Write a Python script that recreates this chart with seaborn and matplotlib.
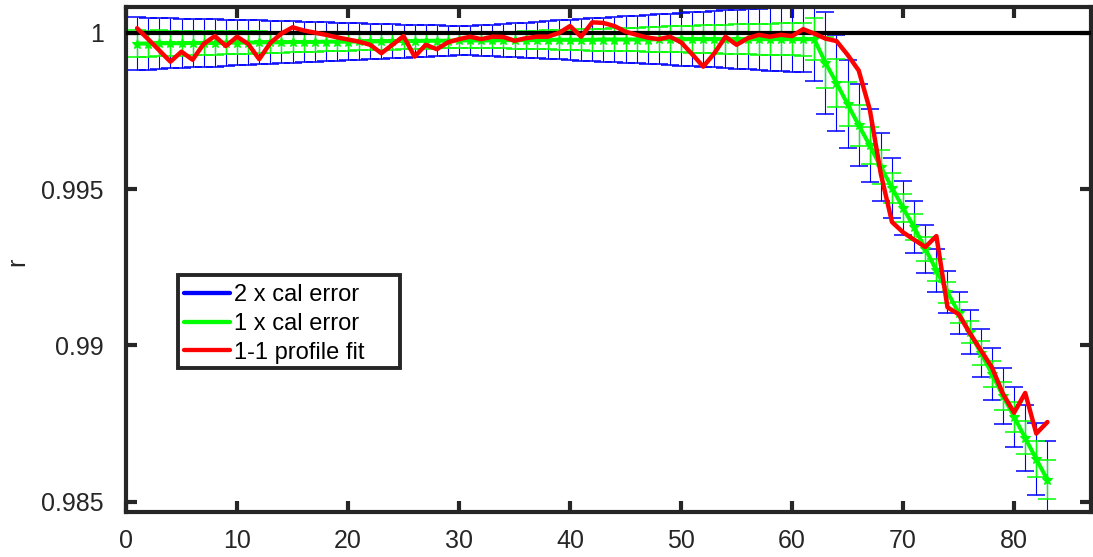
import numpy as np
import pandas as pd
import matplotlib
matplotlib.use("Agg")
import matplotlib.pyplot as plt
from matplotlib.lines import Line2D
from matplotlib.patches import Rectangle
import seaborn as sns

# ---------------- data ----------------
x_idx = list(range(1, 84))

fit_center = [
    0.99966, 0.99966, 0.99967, 0.99967, 0.99967, 0.99968, 0.99968, 0.99968, 0.99969, 0.99969,
    0.99969, 0.99970, 0.99970, 0.99970, 0.99971, 0.99971, 0.99971, 0.99972, 0.99972, 0.99972,
    0.99973, 0.99973, 0.99973, 0.99974, 0.99974, 0.99974, 0.99975, 0.99975, 0.99975, 0.99976,
    0.99976, 0.99976, 0.99976, 0.99977, 0.99977, 0.99977, 0.99977, 0.99978, 0.99978, 0.99978,
    0.99978, 0.99978, 0.99979, 0.99979, 0.99979, 0.99979, 0.99979, 0.99980, 0.99980, 0.99980,
    0.99980, 0.99980, 0.99980, 0.99980, 0.99980, 0.99980, 0.99980, 0.99980, 0.99980, 0.99980,
    0.99980, 0.99980,
    0.99905, 0.99840, 0.99772, 0.99705, 0.99640, 0.99570, 0.99505, 0.99440, 0.99378, 0.99310,
    0.99240, 0.99170, 0.99105, 0.99042, 0.98976, 0.98910, 0.98838, 0.98772, 0.98704, 0.98636,
    0.98570,
]

cal_error = [  # 1 x calibration error
    4.23e-4, 4.16e-4, 4.10e-4, 4.03e-4, 3.96e-4, 3.90e-4, 3.83e-4, 3.77e-4, 3.70e-4, 3.63e-4,
    3.57e-4, 3.50e-4, 3.44e-4, 3.37e-4, 3.30e-4, 3.24e-4, 3.17e-4, 3.11e-4, 3.04e-4, 2.97e-4,
    2.91e-4, 2.84e-4, 2.78e-4, 2.71e-4, 2.65e-4, 2.58e-4, 2.52e-4, 2.46e-4, 2.40e-4, 2.36e-4,
    2.38e-4, 2.44e-4, 2.53e-4, 2.62e-4, 2.72e-4, 2.82e-4, 2.92e-4, 3.02e-4, 3.12e-4, 3.22e-4,
    3.32e-4, 3.42e-4, 3.52e-4, 3.62e-4, 3.72e-4, 3.82e-4, 3.92e-4, 4.01e-4, 4.11e-4, 4.21e-4,
    4.31e-4, 4.41e-4, 4.51e-4, 4.61e-4, 4.71e-4, 4.81e-4, 4.91e-4, 5.01e-4, 5.11e-4, 5.21e-4,
    5.31e-4, 6.70e-4,
    8.15e-4, 7.67e-4, 7.03e-4, 6.55e-4, 5.91e-4, 5.43e-4, 4.79e-4, 4.39e-4, 4.15e-4, 3.83e-4,
    3.51e-4, 3.35e-4, 3.35e-4, 3.51e-4, 3.83e-4, 4.15e-4, 4.47e-4, 4.79e-4, 5.27e-4, 5.75e-4,
    6.23e-4,
]

profile_fit = [
    1.00015, 0.99980, 0.99944, 0.99908, 0.99940, 0.99914, 0.99965, 0.99990, 0.99958, 0.99988,
    0.99965, 0.99916, 0.99968, 0.99998, 1.00018, 1.00008, 1.00001, 0.99994, 0.99986, 0.99979,
    0.99972, 0.99962, 0.99935, 0.99962, 0.99990, 0.99924, 0.99962, 0.99948, 0.99970, 0.99980,
    0.99988, 0.99980, 0.99988, 0.99987, 0.99975, 0.99983, 0.99988, 0.99988, 1.00000, 1.00022,
    0.99988, 1.00034, 1.00032, 1.00022, 1.00004, 0.99994, 0.99985, 0.99980, 0.99988, 0.99970,
    0.99932, 0.99892, 0.99935, 0.99988, 0.99962, 0.99983, 0.99994, 0.99988, 0.99994, 0.99990,
    1.00012, 0.99998, 0.99982, 0.99974, 0.99930, 0.99880, 0.99755, 0.99548, 0.99395, 0.99362,
    0.99338, 0.99315, 0.99350, 0.99122, 0.99100, 0.99040, 0.98985, 0.98930, 0.98845, 0.98785,
    0.98848, 0.98718, 0.98755,
]

x_ticks = [0, 10, 20, 30, 40, 50, 60, 70, 80]
y_ticks = [0.985, 0.99, 0.995, 1.0]
y_tick_labels = ["0.985", "0.99", "0.995", "1"]
legend_labels = ["2 x cal error", "1 x cal error", "1-1 profile fit"]
series_colors = ["#0000ff", "#00ff00", "#ff0000"]
reference_level = 1.0

df = pd.DataFrame({"x": x_idx, "center": fit_center, "err": cal_error, "fit": profile_fit})

# ---------------- style ----------------
sns.set_theme(style="white")
plt.rcParams["font.family"] = ["Liberation Sans", "DejaVu Sans"]
axis_color = "#262626"

fig = plt.figure(figsize=(10.93, 5.57), dpi=100)
ax = fig.add_axes([126 / 1093, 45.3 / 557, 964.7 / 1093, 504.7 / 557])

# 2 x cal error bars
ax.errorbar(df["x"], df["center"], yerr=2 * df["err"], fmt="none",
            ecolor=series_colors[0], elinewidth=0.8, capsize=6.2, capthick=1.1, zorder=2)
# 1 x cal error bars
ax.errorbar(df["x"], df["center"], yerr=df["err"], fmt="none",
            ecolor=series_colors[1], elinewidth=1.0, capsize=6.2, capthick=1.1, zorder=3)
# green centre line with markers
sns.lineplot(data=df, x="x", y="center", ax=ax, color=series_colors[1], linewidth=2.9,
             marker="*", markersize=7, markeredgewidth=0.8, markeredgecolor=series_colors[1],
             sort=False, estimator=None, zorder=4)
# reference line at 1
ax.axhline(reference_level, color="black", linewidth=3.0, zorder=5)
# red profile fit
sns.lineplot(data=df, x="x", y="fit", ax=ax, color=series_colors[2], linewidth=3.2,
             sort=False, estimator=None, zorder=6)

ax.set_xlim(0, 86.9)
ax.set_ylim(0.98468, 1.00083)
ax.set_xticks(x_ticks)
ax.set_xticklabels([str(v) for v in x_ticks])
ax.set_yticks(y_ticks)
ax.set_yticklabels(y_tick_labels)
ax.set_xlabel("")
ax.set_ylabel("r", fontsize=18, color=axis_color)
ax.yaxis.set_label_coords(-0.1, 0.4948)

for s in ax.spines.values():
    s.set_visible(True)
    s.set_linewidth(3.0)
    s.set_color(axis_color)

ax.tick_params(axis="both", which="major", direction="in", length=7.7, width=3.0,
               color=axis_color, labelcolor=axis_color, labelsize=18,
               top=True, right=True, left=True, bottom=True)
ax.tick_params(axis="y", pad=16.0)
ax.tick_params(axis="x", pad=12.5)

# legend frame (MATLAB-style box with extra right padding)
ax.add_patch(Rectangle((0.0542, 0.2847), 0.2298, 0.1843, transform=ax.transAxes,
                       facecolor="white", edgecolor=axis_color, linewidth=2.8, zorder=7))
handles = [Line2D([0], [0], color=c, linewidth=3.1) for c in series_colors]
leg = ax.legend(handles, legend_labels, loc="upper left", bbox_to_anchor=(0.0542, 0.463),
                borderaxespad=0, fontsize=17, frameon=False,
                handlelength=1.95, handletextpad=0.15, labelspacing=0.29,
                borderpad=0.25)
leg.set_zorder(8)
for t in leg.get_texts():
    t.set_color("black")

fig.savefig("out.png", dpi=100, facecolor="white")
